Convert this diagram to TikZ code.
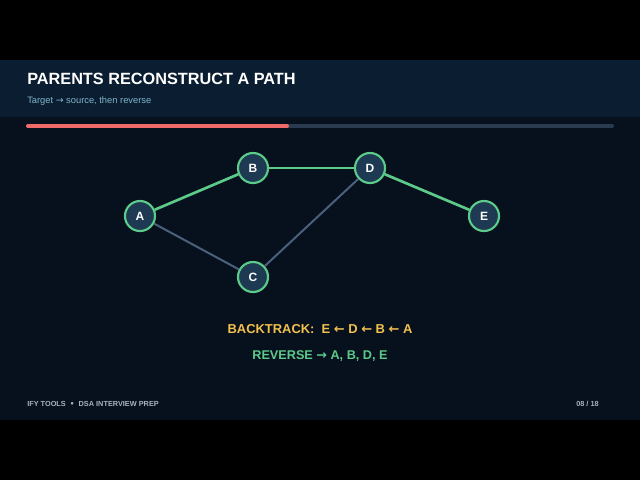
\documentclass[tikz,border=0pt]{standalone}
\usepackage{fontspec}
\setmainfont{Liberation Sans}
\newfontfamily\sym{DejaVu Sans}
\definecolor{bg}{HTML}{07101D}
\definecolor{hdr}{HTML}{0B1D30}
\definecolor{nodefill}{HTML}{1E3A52}
\definecolor{grn}{HTML}{5CCB8A}
\definecolor{gry}{HTML}{4A607D}
\definecolor{ylw}{HTML}{F2C14E}
\definecolor{sub}{HTML}{7FB5CC}
\definecolor{red}{HTML}{F06A6A}
\definecolor{track}{HTML}{2A3B50}
\definecolor{foot}{HTML}{A8B2BE}
\begin{document}
\begin{tikzpicture}[x=0.75pt,y=-0.75pt,
  vert/.style={circle,draw=grn,line width=1.6pt,fill=nodefill,minimum size=22.5pt,inner sep=0pt,text=white,font=\bfseries\fontsize{9}{10}\selectfont},
  path/.style={grn,line width=2pt},
  other/.style={gry,line width=1.5pt}]
\fill[black] (0,0) rectangle (640,480);
\fill[bg] (0,60) rectangle (640,420);
\fill[hdr] (0,60) rectangle (640,117);
\node[anchor=west,text=white,font=\bfseries\fontsize{12.2}{14}\selectfont,inner sep=0] (title) at (27,79) {PARENTS RECONSTRUCT A PATH};
\node[anchor=west,text=sub,font=\fontsize{7}{8}\selectfont,inner sep=0] (subt) at (27,101) {Target {\sym→} source, then reverse};
\draw[track,line width=3pt,line cap=round] (28,126) -- (612,126);
\draw[red,line width=3pt,line cap=round] (28,126) -- (287,126);
\node[vert] (A) at (140,216) {A};
\node[vert] (B) at (253,168) {B};
\node[vert] (D) at (370,168) {D};
\node[vert] (E) at (484,216) {E};
\node[vert] (C) at (253,277) {C};
\draw[other] (A) -- (C);
\draw[other] (C) -- (D);
\draw[path] (A) -- (B);
\draw[path] (B) -- (D);
\draw[path] (D) -- (E);
\node[text=ylw,font=\bfseries\fontsize{9.7}{11}\selectfont] (bt) at (320,329) {BACKTRACK:\ \ E {\sym←} D {\sym←} B {\sym←} A};
\node[text=grn,font=\bfseries\fontsize{9.5}{10}\selectfont] (rv) at (320,356) {REVERSE {\sym→} A, B, D, E};
\node[anchor=west,text=foot,font=\bfseries\fontsize{5.5}{6}\selectfont,inner sep=0] (fl) at (27,404) {IFY TOOLS \ {\sym•} \ DSA INTERVIEW PREP};
\node[anchor=east,text=foot,font=\bfseries\fontsize{5.5}{6}\selectfont,inner sep=0] (fr) at (599,404) {08 / 18};
\end{tikzpicture}
\end{document}
